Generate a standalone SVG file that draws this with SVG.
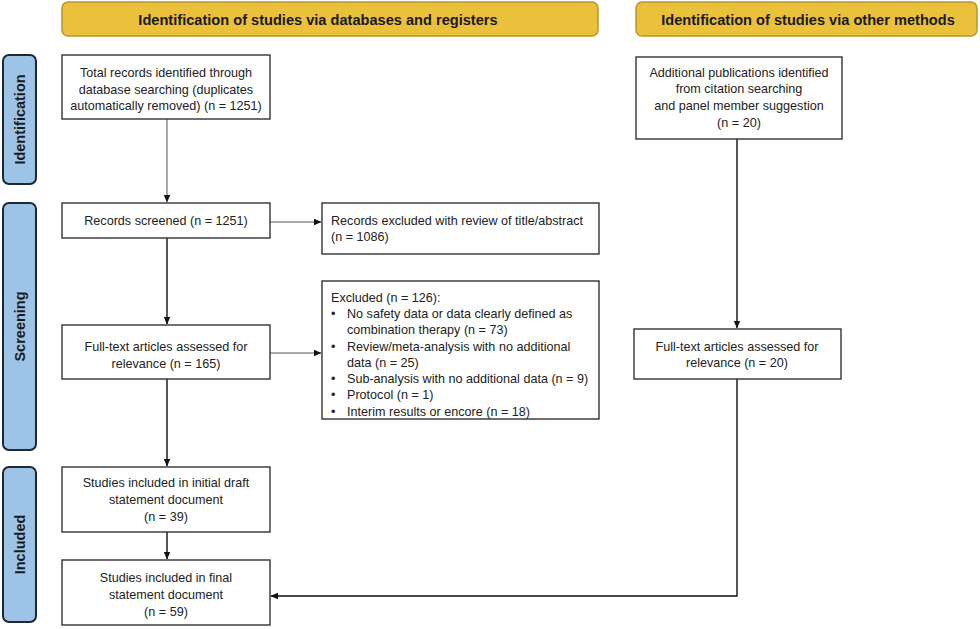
<svg xmlns="http://www.w3.org/2000/svg" width="980" height="629" viewBox="0 0 980 629">
<defs>
<marker id="arr" markerWidth="8" markerHeight="8" refX="7" refY="4" orient="auto" markerUnits="userSpaceOnUse">
<path d="M0,0.8 L7.5,4 L0,7.2 Z" fill="#111"/>
</marker>
</defs>
<style>
.hdr{fill:#EBC03A;stroke:#B8972C;stroke-width:1.5}
.hdrt{font-family:"Liberation Sans",Arial,sans-serif;font-weight:bold;font-size:14.6px;fill:#1a1a1a;text-anchor:middle}
.lab{fill:#9DC3E6;stroke:#1E2833;stroke-width:2}
.labt{font-family:"Liberation Sans",Arial,sans-serif;font-weight:bold;font-size:14.5px;fill:#1a1a1a;text-anchor:middle}
.box{fill:#fff;stroke:#333;stroke-width:1.4}
.t{font-family:"Liberation Sans",Arial,sans-serif;font-size:12.6px;fill:#222}
.c{text-anchor:middle}
.ln{fill:none;stroke:#111;stroke-width:1.4}
.thin{stroke:#555;stroke-width:1}
</style>
<rect width="980" height="629" fill="#fff"/>

<g id="header-databases"><rect class="hdr" x="62" y="2" width="536" height="34" rx="6"/><text class="hdrt" x="318" y="25">Identification of studies via databases and registers</text></g>
<g id="header-other"><rect class="hdr" x="636" y="2" width="341" height="34" rx="6"/><text class="hdrt" x="808" y="25">Identification of studies via other methods</text></g>

<g id="label-identification"><rect class="lab" x="3" y="55" width="33" height="129" rx="6"/><text class="labt" transform="translate(24.5,119.5) rotate(-90)">Identification</text></g>
<g id="label-screening"><rect class="lab" x="3" y="203" width="33" height="247" rx="6"/><text class="labt" transform="translate(24.5,326.5) rotate(-90)">Screening</text></g>
<g id="label-included"><rect class="lab" x="3" y="467" width="33" height="155" rx="6"/><text class="labt" transform="translate(24.5,544.5) rotate(-90)">Included</text></g>

<g id="connectors">
<line class="ln thin" x1="167" y1="119" x2="167" y2="202" marker-end="url(#arr)"/>
<line class="ln thin" x1="270" y1="222" x2="321" y2="222" marker-end="url(#arr)"/>
<line class="ln" x1="167" y1="238" x2="167" y2="324" marker-end="url(#arr)"/>
<line class="ln thin" x1="270" y1="353" x2="321" y2="353" marker-end="url(#arr)"/>
<line class="ln" x1="167" y1="379" x2="167" y2="466" marker-end="url(#arr)"/>
<line class="ln" x1="167" y1="532" x2="167" y2="559" marker-end="url(#arr)"/>
<line class="ln" x1="737" y1="139" x2="737" y2="328" marker-end="url(#arr)"/>
<polyline class="ln" points="737,379 737,596 271,596" marker-end="url(#arr)"/>
</g>

<g id="node-total-records"><rect class="box" x="62" y="55" width="208" height="64"/>
<text class="t c" x="166" y="77">Total records identified through</text>
<text class="t c" x="166" y="94">database searching (duplicates</text>
<text class="t c" x="166" y="110">automatically removed) (n = 1251)</text></g>

<g id="node-screened"><rect class="box" x="62" y="203" width="208" height="35"/>
<text class="t c" x="166" y="225">Records screened (n = 1251)</text></g>

<g id="node-excluded-title"><rect class="box" x="322" y="203" width="277" height="51"/>
<text class="t" x="331" y="225">Records excluded with review of title/abstract</text>
<text class="t" x="331" y="241">(n = 1086)</text></g>

<g id="node-fulltext"><rect class="box" x="62" y="325" width="208" height="54"/>
<text class="t c" x="166" y="351">Full-text articles assessed for</text>
<text class="t c" x="166" y="368">relevance (n = 165)</text></g>

<g id="node-excluded"><rect class="box" x="322" y="281" width="277" height="138"/>
<text class="t" x="331" y="302">Excluded (n = 126):</text>
<text class="t" x="331" y="318">•</text><text class="t" x="347" y="318">No safety data or data clearly defined as</text>
<text class="t" x="347" y="334">combination therapy (n = 73)</text>
<text class="t" x="331" y="351">•</text><text class="t" x="347" y="351">Review/meta-analysis with no additional</text>
<text class="t" x="347" y="367">data (n = 25)</text>
<text class="t" x="331" y="383">•</text><text class="t" x="347" y="383">Sub-analysis with no additional data (n = 9)</text>
<text class="t" x="331" y="399">•</text><text class="t" x="347" y="399">Protocol (n = 1)</text>
<text class="t" x="331" y="416">•</text><text class="t" x="347" y="416">Interim results or encore (n = 18)</text></g>

<g id="node-draft"><rect class="box" x="62" y="467" width="208" height="65"/>
<text class="t c" x="166" y="487">Studies included in initial draft</text>
<text class="t c" x="166" y="504">statement document</text>
<text class="t c" x="166" y="521">(n = 39)</text></g>

<g id="node-final"><rect class="box" x="62" y="560" width="208" height="65"/>
<text class="t c" x="166" y="582">Studies included in final</text>
<text class="t c" x="166" y="599">statement document</text>
<text class="t c" x="166" y="616">(n = 59)</text></g>

<g id="node-additional"><rect class="box" x="636" y="57" width="206" height="82"/>
<text class="t c" x="739" y="77">Additional publications identified</text>
<text class="t c" x="739" y="93">from citation searching</text>
<text class="t c" x="739" y="110">and panel member suggestion</text>
<text class="t c" x="739" y="127">(n = 20)</text></g>

<g id="node-fulltext-other"><rect class="box" x="634" y="329" width="207" height="50"/>
<text class="t c" x="737" y="351">Full-text articles assessed for</text>
<text class="t c" x="737" y="367">relevance (n = 20)</text></g>
</svg>
